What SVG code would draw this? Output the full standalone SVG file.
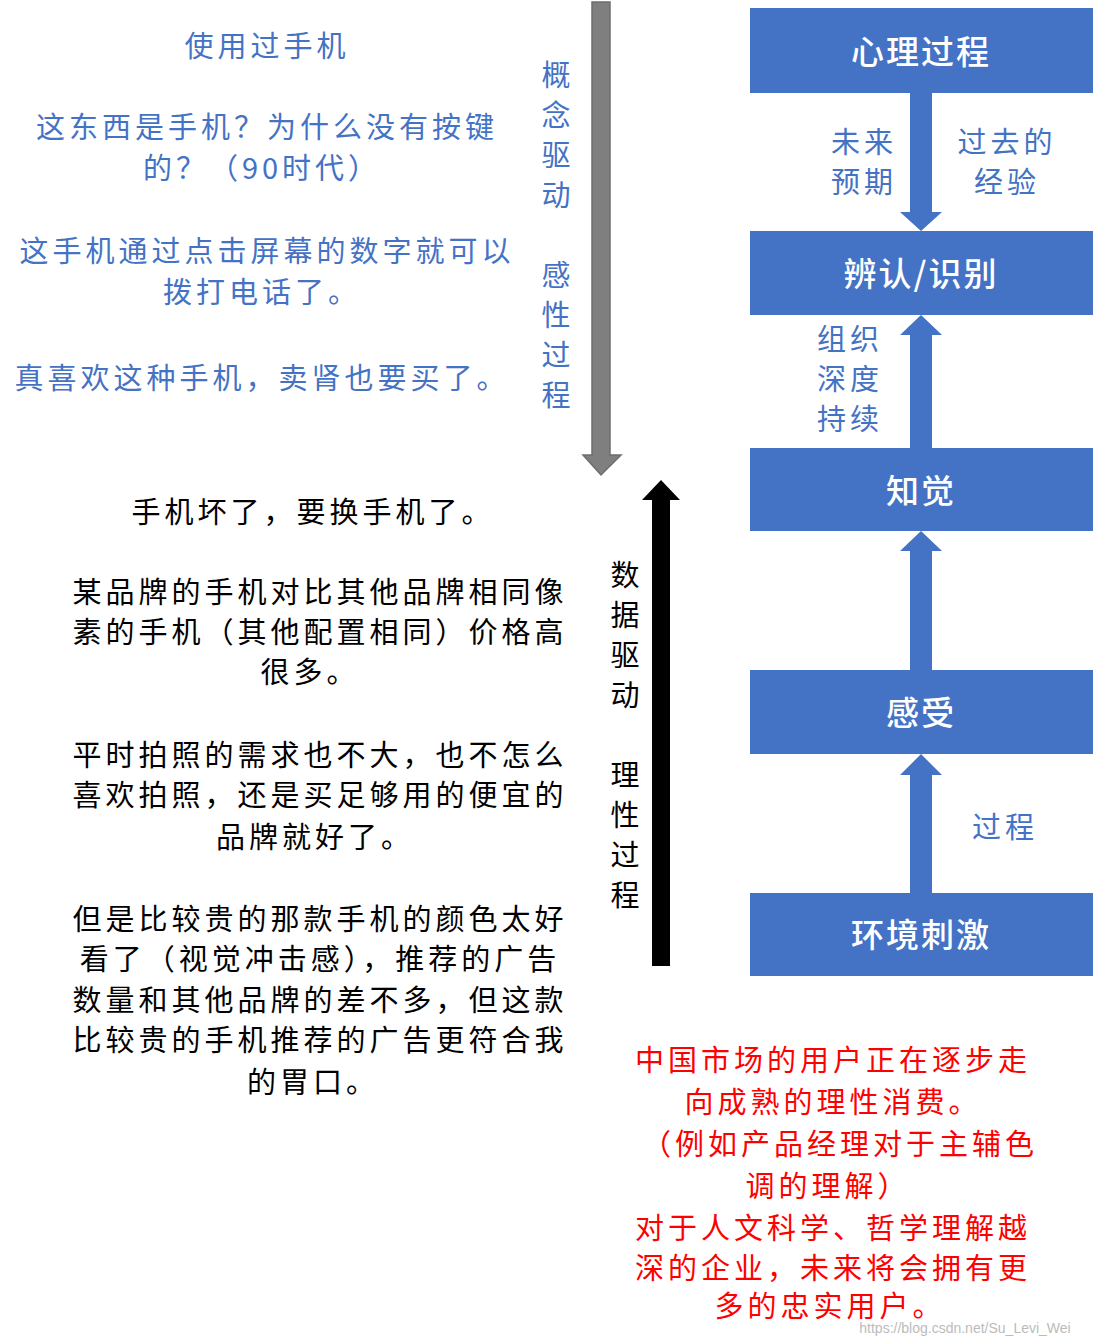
<svg xmlns="http://www.w3.org/2000/svg" width="1094" height="1343" viewBox="0 0 1094 1343">
<style>
text{font-family:"Noto Sans CJK SC","Liberation Sans",sans-serif;dominant-baseline:central;text-anchor:middle;font-size:29px;letter-spacing:4px}
.box{fill:#4472C4}
.bt{fill:#fff;font-size:33px;font-weight:500;letter-spacing:2px}
.bl{fill:#4472C4}
.bk{fill:#000}
.rd{fill:#FF0000}
.ar{fill:#4472C4}
</style>
<rect width="1094" height="1343" fill="#fff"/>
<g id="connectors">
<path class="ar" d="M910 93H932V212H942L921 231L900 212H910Z"/>
<path class="ar" d="M910 448H932V335H942L921 315L900 335H910Z"/>
<path class="ar" d="M910 670H932V551H942L921 531L900 551H910Z"/>
<path class="ar" d="M910 893H932V775H942L921 754L900 775H910Z"/>
<path d="M592 2H610V455H621L601 475L583 455H592Z" fill="#7F7F7F" stroke="#6d6d6d" stroke-width="1.5"/>
<path d="M652 966H670V500H680L661 480L642 500H652Z" fill="#000"/>
</g>
<g id="n1"><rect class="box" x="750" y="8" width="343" height="85"/><text class="bt" x="921" y="50">心理过程</text></g>
<g id="n2"><rect class="box" x="750" y="231" width="343" height="84"/><text class="bt" x="921" y="272">辨认/识别</text></g>
<g id="n3"><rect class="box" x="750" y="448" width="343" height="83"/><text class="bt" x="921" y="489">知觉</text></g>
<g id="n4"><rect class="box" x="750" y="670" width="343" height="84"/><text class="bt" x="921" y="711">感受</text></g>
<g id="n5"><rect class="box" x="750" y="893" width="343" height="83"/><text class="bt" x="921" y="933">环境刺激</text></g>
<g id="labels">
<text class="bl" x="864" y="140">未来</text><text class="bl" x="864" y="180">预期</text>
<text class="bl" x="1007" y="140">过去的</text><text class="bl" x="1007" y="180">经验</text>
<text class="bl" x="850" y="337">组织</text><text class="bl" x="850" y="377">深度</text><text class="bl" x="850" y="417">持续</text>
<text class="bl" x="1005" y="825">过程</text>
<text class="bl" x="558" y="73">概</text><text class="bl" x="558" y="113">念</text><text class="bl" x="558" y="153">驱</text><text class="bl" x="558" y="193">动</text>
<text class="bl" x="558" y="273">感</text><text class="bl" x="558" y="313">性</text><text class="bl" x="558" y="353">过</text><text class="bl" x="558" y="393">程</text>
<text class="bk" x="627" y="573">数</text><text class="bk" x="627" y="613">据</text><text class="bk" x="627" y="653">驱</text><text class="bk" x="627" y="693">动</text>
<text class="bk" x="627" y="773">理</text><text class="bk" x="627" y="813">性</text><text class="bk" x="627" y="853">过</text><text class="bk" x="627" y="893">程</text>
</g>
<g id="topText">
<text class="bl" x="267" y="44">使用过手机</text>
<text class="bl" x="267" y="125">这东西是手机？为什么没有按键</text>
<text class="bl" x="262" y="166">的？（90时代）</text>
<text class="bl" x="267" y="249">这手机通过点击屏幕的数字就可以</text>
<text class="bl" x="262" y="290">拨打电话了。</text>
<text class="bl" x="262" y="376">真喜欢这种手机，卖肾也要买了。</text>
</g>
<g id="bottomText">
<text class="bk" x="313" y="510">手机坏了，要换手机了。</text>
<text class="bk" x="320" y="590">某品牌的手机对比其他品牌相同像</text>
<text class="bk" x="320" y="630">素的手机（其他配置相同）价格高</text>
<text class="bk" x="310" y="670">很多。</text>
<text class="bk" x="320" y="753">平时拍照的需求也不大，也不怎么</text>
<text class="bk" x="320" y="793">喜欢拍照，还是买足够用的便宜的</text>
<text class="bk" x="315" y="835">品牌就好了。</text>
<text class="bk" x="320" y="917">但是比较贵的那款手机的颜色太好</text>
<text class="bk" x="320" y="957">看了（视觉冲击感），推荐的广告</text>
<text class="bk" x="320" y="998">数量和其他品牌的差不多，但这款</text>
<text class="bk" x="320" y="1038">比较贵的手机推荐的广告更符合我</text>
<text class="bk" x="313" y="1080">的胃口。</text>
</g>
<g id="redText">
<text class="rd" x="833" y="1058">中国市场的用户正在逐步走</text>
<text class="rd" x="833" y="1100">向成熟的理性消费。</text>
<text class="rd" x="840" y="1142">（例如产品经理对于主辅色</text>
<text class="rd" x="828" y="1184">调的理解）</text>
<text class="rd" x="833" y="1226">对于人文科学、哲学理解越</text>
<text class="rd" x="833" y="1266">深的企业，未来将会拥有更</text>
<text class="rd" x="830" y="1304">多的忠实用户。</text>
</g>
<text x="965" y="1328" style="font-size:14px;fill:#bbb;font-family:'Liberation Sans',sans-serif;letter-spacing:0">https://blog.csdn.net/Su_Levi_Wei</text>
</svg>
